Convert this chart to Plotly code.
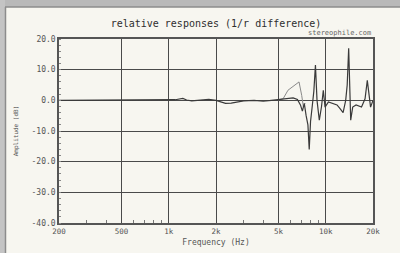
import plotly.graph_objects as go

# ---- data ----
freq_dark = [200, 300, 400, 500, 700, 900, 1100, 1230, 1300, 1400, 1600, 1800, 2000, 2150,
             2300, 2500, 2700, 3000, 3500, 4000, 4500, 5000, 5350, 5700, 6200, 6600, 6900,
             7100, 7300, 7500, 7700, 7850, 8000, 8200, 8400, 8600, 8800, 9100, 9400, 9650,
             9900, 10400, 11100, 11800, 12300, 12900, 13400, 13700, 14000, 14200, 14420,
             14850, 15600, 16900, 17800, 18400, 18900, 19300, 20000]
amp_dark = [0, 0, 0.1, 0, 0, 0.1, 0.2, 0.6, 0.1, -0.2, 0.1, 0.3, 0, -0.5,
            -1.0, -0.9, -0.5, -0.2, 0, -0.3, 0, 0.2, 0.3, 0.5, 0.8, 0.3, -1.5,
            -3.5, -1.0, -5.0, -8.0, -16.0, -7.0, -2.0, 3.0, 11.5, 0, -6.5, -2.0, 3.3,
            -2.2, -0.5, -1.0, -1.5, -2.6, -4.0, 0, 5.0, 17.0, 5.0, -6.5,
            -2.2, -1.5, -2.2, 0.5, 6.5, 1.0, -2.2, 0]

freq_gray = [5000, 5350, 5750, 6200, 6530, 6760, 7030, 7200, 7400]
amp_gray = [0.2, 0.5, 3.3, 4.5, 5.4, 6.0, 1.6, -2.0, -1.0]

x_tickvals = [200, 500, 1000, 2000, 5000, 10000, 20000]
x_ticktext = ["200", "500", "1k", "2k", "5k", "10k", "20k"]
y_tickvals = [20, 10, 0, -10, -20, -30, -40]
y_ticktext = ["20.0", "10.0", "0.0", "-10.0", "-20.0", "-30.0", "-40.0"]

title_text = "relative responses (1/r difference)"
corner_text = "stereophile.com"

MONO = "DejaVu Sans Mono"
BG = "#f7f6f0"

fig = go.Figure()
fig.add_trace(go.Scatter(x=freq_gray, y=amp_gray, mode="lines",
                         line=dict(color="#8a8a8a", width=1), hoverinfo="skip"))
fig.add_trace(go.Scatter(x=freq_dark, y=amp_dark, mode="lines",
                         line=dict(color="#3a3a3a", width=1.2), hoverinfo="skip"))

minor_x = [300, 400, 600, 700, 800, 900, 3000, 4000, 6000, 7000, 8000, 9000]

fig.update_layout(
    width=400, height=253,
    margin=dict(l=59, r=27, t=39, b=30),
    paper_bgcolor=BG, plot_bgcolor=BG,
    showlegend=False,
    title=dict(text=title_text, x=0.54, xanchor="center", y=1 - 23.5 / 253,
               yanchor="middle", font=dict(family=MONO, size=10, color="#2e2e2e")),
    xaxis=dict(type="log", range=[2.30103, 4.30103], automargin=False,
               tickvals=x_tickvals, ticktext=x_ticktext,
               tickfont=dict(family=MONO, size=7.5, color="#555555"),
               showgrid=True, gridcolor="#4a4a4a", gridwidth=1.4,
               showline=True, linecolor="#555555", linewidth=1.5, mirror=True,
               ticks="", ticklen=5, zeroline=False,
               minor=dict(tickvals=minor_x, ticks="inside", ticklen=3,
                          tickcolor="#777777", showgrid=False),
               title=dict(text="Frequency (Hz)", standoff=5,
                          font=dict(family=MONO, size=8, color="#555555"))),
    yaxis=dict(range=[-40, 20], automargin=False,
               tickvals=y_tickvals, ticktext=y_ticktext,
               tickfont=dict(family=MONO, size=8, color="#555555"),
               showgrid=True, gridcolor="#4a4a4a", gridwidth=1.4,
               showline=True, linecolor="#555555", linewidth=1.5, mirror=True,
               ticks="", ticklen=2, zeroline=False,
               minor=dict(dtick=2, ticks="inside", ticklen=2,
                          tickcolor="#888888", showgrid=False),
               title=dict(text="Amplitude (dB)", standoff=12,
                          font=dict(family=MONO, size=6, color="#555555"))),
)

# outer frame bands (top and left) like the reference border
W, H = 314.0, 184.0
def px(x):
    return (x - 59) / W
def py(y):
    return (223 - y) / H

fig.add_shape(type="rect", xref="paper", yref="paper",
              x0=px(-2), x1=px(402), y0=py(7), y1=py(-2),
              fillcolor="#b9b9b9", line=dict(width=0), layer="above")
fig.add_shape(type="line", xref="paper", yref="paper",
              x0=px(5), x1=px(402), y0=py(7), y1=py(7),
              line=dict(color="#8c8c8c", width=1.5), layer="above")
fig.add_shape(type="rect", xref="paper", yref="paper",
              x0=px(-2), x1=px(5), y0=py(255), y1=py(-2),
              fillcolor="#c4c4c4", line=dict(width=0), layer="above")
fig.add_shape(type="line", xref="paper", yref="paper",
              x0=px(5.5), x1=px(5.5), y0=py(255), y1=py(7),
              line=dict(color="#8c8c8c", width=1.5), layer="above")

fig.add_annotation(text=corner_text, xref="paper", yref="paper",
                   x=1.0, y=1.0, xanchor="right", yanchor="bottom",
                   showarrow=False, yshift=0,
                   font=dict(family=MONO, size=7, color="#666666"))

fig.write_html("out.html", config={"displayModeBar": False},
               post_script="document.body.style.margin='0px';document.body.style.overflow='hidden';")
